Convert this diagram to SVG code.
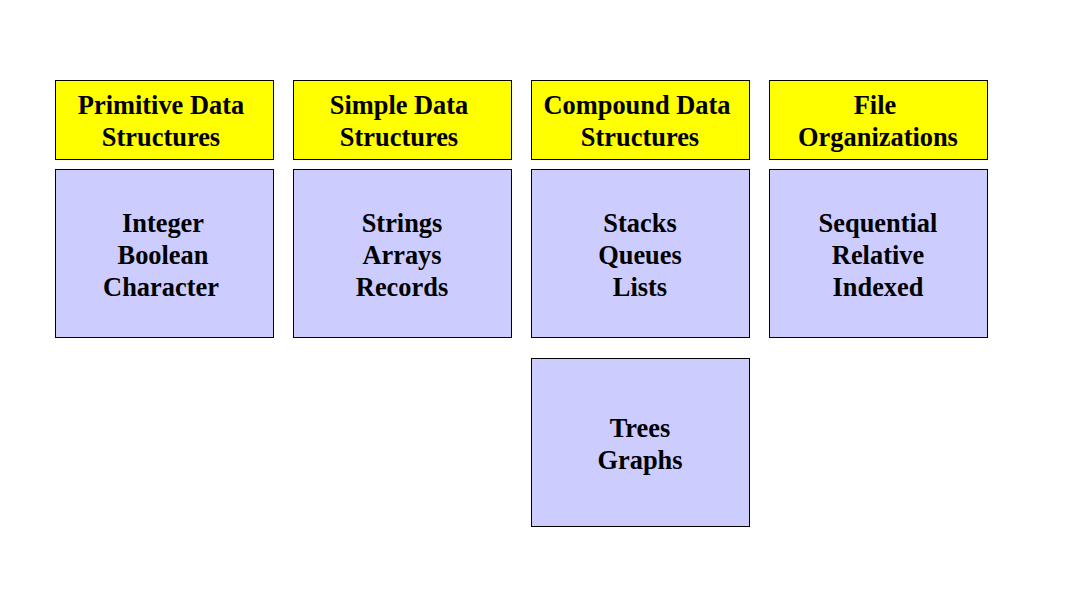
<svg xmlns="http://www.w3.org/2000/svg" width="1071" height="602" viewBox="0 0 1071 602">
<style>
.h{fill:#ffff00;stroke:#000;stroke-width:1}
.b{fill:#ccccff;stroke:#000;stroke-width:1}
text{font-family:"Liberation Serif","Times New Roman",serif;font-weight:bold;font-size:26.4px;text-anchor:middle;fill:#000}
</style>
<rect width="1071" height="602" fill="#fff"/>
<g id="h1"><rect class="h" x="55.5" y="80.5" width="218" height="79"/><text x="161" y="114">Primitive Data</text><text x="161" y="146">Structures</text></g>
<g id="h2"><rect class="h" x="293.5" y="80.5" width="218" height="79"/><text x="399" y="114">Simple Data</text><text x="399" y="146">Structures</text></g>
<g id="h3"><rect class="h" x="531.5" y="80.5" width="218" height="79"/><text x="637" y="114">Compound Data</text><text x="640" y="146">Structures</text></g>
<g id="h4"><rect class="h" x="769.5" y="80.5" width="218" height="79"/><text x="875" y="114">File</text><text x="878" y="146">Organizations</text></g>
<g id="b1"><rect class="b" x="55.5" y="169.5" width="218" height="168"/><text x="163" y="232">Integer</text><text x="163" y="264">Boolean</text><text x="161" y="296">Character</text></g>
<g id="b2"><rect class="b" x="293.5" y="169.5" width="218" height="168"/><text x="402" y="232">Strings</text><text x="402" y="264">Arrays</text><text x="402" y="296">Records</text></g>
<g id="b3"><rect class="b" x="531.5" y="169.5" width="218" height="168"/><text x="640" y="232">Stacks</text><text x="640" y="264">Queues</text><text x="640" y="296">Lists</text></g>
<g id="b4"><rect class="b" x="769.5" y="169.5" width="218" height="168"/><text x="878" y="232">Sequential</text><text x="878" y="264">Relative</text><text x="878" y="296">Indexed</text></g>
<g id="b5"><rect class="b" x="531.5" y="358.5" width="218" height="168"/><text x="640" y="437">Trees</text><text x="640" y="469">Graphs</text></g>
<g id="connectors"/>
</svg>
